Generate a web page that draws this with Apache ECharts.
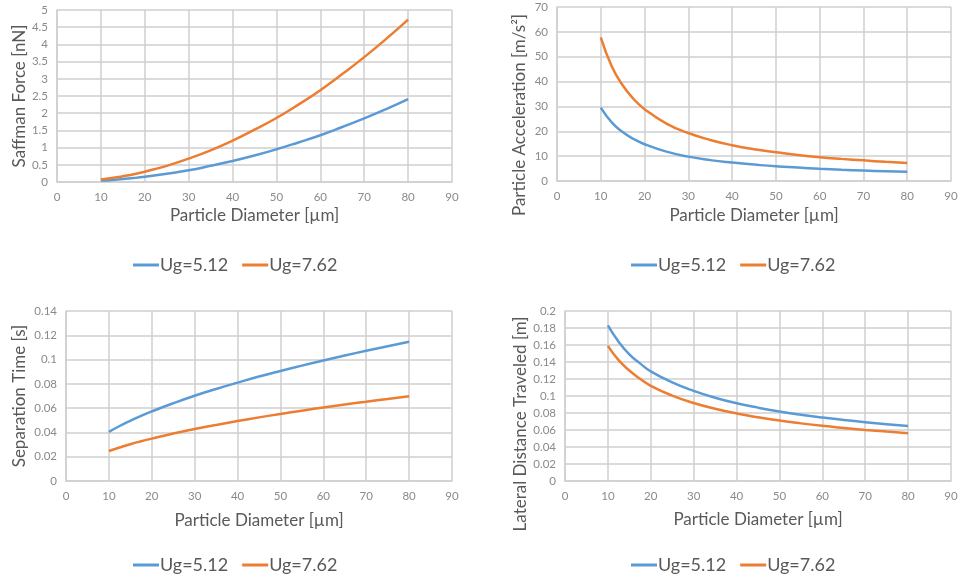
<!DOCTYPE html>
<html>
<head>
<meta charset="utf-8">
<script src="https://cdn.jsdelivr.net/npm/echarts@6/dist/echarts.min.js"></script>
<style>
  html, body { margin: 0; padding: 0; background: #ffffff; }
  #chart { width: 961px; height: 577px; }
</style>
</head>
<body>
<div id="chart"></div>
<script>
// Particle diameters [µm] at which each quantity is plotted
const diameters = [10, 12.5, 15, 17.5, 20, 25, 30, 35, 40, 45, 50, 55, 60, 65, 70, 75, 80];

const seriesNames = ['Ug=5.12', 'Ug=7.62'];

// Saffman force [nN]
const forceUg512 = [0.04, 0.06, 0.09, 0.115, 0.15, 0.24, 0.34, 0.47, 0.61, 0.77, 0.95, 1.15, 1.36, 1.6, 1.85, 2.12, 2.41];
const forceUg762 = [0.07, 0.115, 0.17, 0.225, 0.30, 0.47, 0.68, 0.92, 1.2, 1.52, 1.86, 2.25, 2.67, 3.14, 3.63, 4.16, 4.72];

// Particle acceleration [m/s²]
const accelUg512 = [29.5, 23.6, 19.7, 16.9, 14.8, 11.8, 9.8, 8.4, 7.4, 6.6, 5.9, 5.4, 4.9, 4.5, 4.2, 3.9, 3.7];
const accelUg762 = [57.8, 46.2, 38.5, 33.0, 28.9, 23.1, 19.3, 16.5, 14.4, 12.8, 11.6, 10.5, 9.6, 8.9, 8.3, 7.7, 7.2];

// Separation time [s]
const timeUg512 = [0.0405, 0.0453, 0.0496, 0.0536, 0.0573, 0.064, 0.0702, 0.0758, 0.081, 0.086, 0.0906, 0.095, 0.0992, 0.1033, 0.1072, 0.1109, 0.1146];
const timeUg762 = [0.0247, 0.0276, 0.0303, 0.0327, 0.0349, 0.0391, 0.0428, 0.0462, 0.0494, 0.0524, 0.0552, 0.0579, 0.0605, 0.063, 0.0653, 0.0676, 0.0698];

// Lateral distance traveled [m]
const distUg512 = [0.183, 0.1637, 0.149, 0.1384, 0.129, 0.116, 0.106, 0.098, 0.0915, 0.0863, 0.0818, 0.078, 0.0747, 0.0718, 0.0692, 0.0668, 0.0647];
const distUg762 = [0.159, 0.1422, 0.13, 0.1202, 0.112, 0.1005, 0.0918, 0.085, 0.0795, 0.075, 0.0711, 0.0678, 0.0649, 0.0624, 0.0601, 0.0581, 0.0562];

const xTitle = 'Particle Diameter [µm]';
const yTitles = ['Saffman Force [nN]', 'Particle Acceleration [m/s²]', 'Separation Time [s]', 'Lateral Distance Traveled [m]'];

// y-axis ranges [min, max, interval]
const yRanges = [[0, 5, 0.5], [0, 70, 10], [0, 0.14, 0.02], [0, 0.2, 0.02]];

const FONT = 'Lato';
const GRID_COLOR = '#cfcfcf';
const TICK_COLOR = '#8a8a8a';
const TITLE_COLOR = '#595959';
const COLORS = ['#5B9BD5', '#ED7D31'];

const panels = [
  { grid: { left: 57, top: 10, width: 395, height: 172 }, xGap: 25, yTitlePos: [20, 96], legend: { left: 128, top: 251 }, data: [forceUg512, forceUg762] },
  { grid: { left: 557, top: 7, width: 394, height: 174 }, xGap: 26, yTitlePos: [520, 115], legend: { left: 626, top: 251 }, data: [accelUg512, accelUg762] },
  { grid: { left: 66, top: 311, width: 386, height: 170 }, xGap: 31, yTitlePos: [20, 396], legend: { left: 128, top: 551 }, data: [timeUg512, timeUg762] },
  { grid: { left: 565, top: 311, width: 386, height: 170 }, xGap: 30, yTitlePos: [521, 424], legend: { left: 626, top: 551 }, data: [distUg512, distUg762] }
];

const pairs = vals => diameters.map((d, i) => [d, vals[i]]);

const option = {
  animation: false,
  backgroundColor: '#ffffff',
  textStyle: { fontFamily: FONT },
  grid: panels.map(p => Object.assign({ containLabel: false, show: false }, p.grid)),
  xAxis: panels.map((p, i) => ({
    type: 'value', gridIndex: i, min: 0, max: 90, interval: 10,
    name: xTitle, nameLocation: 'middle', nameGap: p.xGap,
    nameTextStyle: { fontFamily: FONT, fontSize: 17, color: TITLE_COLOR },
    axisLine: { show: true, lineStyle: { color: GRID_COLOR, width: 1.5 } },
    axisTick: { show: false },
    axisLabel: { fontFamily: FONT, fontSize: 11.5, color: TICK_COLOR, margin: 9 },
    splitLine: { show: true, lineStyle: { color: GRID_COLOR, width: 1.5 } }
  })),
  yAxis: panels.map((p, i) => ({
    type: 'value', gridIndex: i, min: yRanges[i][0], max: yRanges[i][1], interval: yRanges[i][2],
    axisLine: { show: true, lineStyle: { color: GRID_COLOR, width: 1.5 } },
    axisTick: { show: false },
    axisLabel: { fontFamily: FONT, fontSize: 11.5, color: TICK_COLOR, margin: 9 },
    splitLine: { show: true, lineStyle: { color: GRID_COLOR, width: 1.5 } }
  })),
  legend: panels.map(p => ({
    left: p.legend.left, top: p.legend.top,
    data: seriesNames, icon: 'rect', itemWidth: 26, itemHeight: 3, itemGap: 14,
    textStyle: { fontFamily: FONT, fontSize: 18, color: TITLE_COLOR, padding: [0, 0, 0, -4] }
  })),
  series: [],
  graphic: panels.map((p, i) => ({
    type: 'text', x: p.yTitlePos[0], y: p.yTitlePos[1], rotation: Math.PI / 2,
    style: { text: yTitles[i], fontFamily: FONT, fontSize: 17, fill: TITLE_COLOR, align: 'center', verticalAlign: 'middle' }
  }))
};

panels.forEach((p, i) => {
  p.data.forEach((vals, k) => {
    option.series.push({
      type: 'line', name: seriesNames[k], xAxisIndex: i, yAxisIndex: i,
      data: pairs(vals), smooth: true, showSymbol: false,
      lineStyle: { color: COLORS[k], width: 2.5 }, itemStyle: { color: COLORS[k] }
    });
  });
});

echarts.init(document.getElementById('chart')).setOption(option);
</script>
</body>
</html>
